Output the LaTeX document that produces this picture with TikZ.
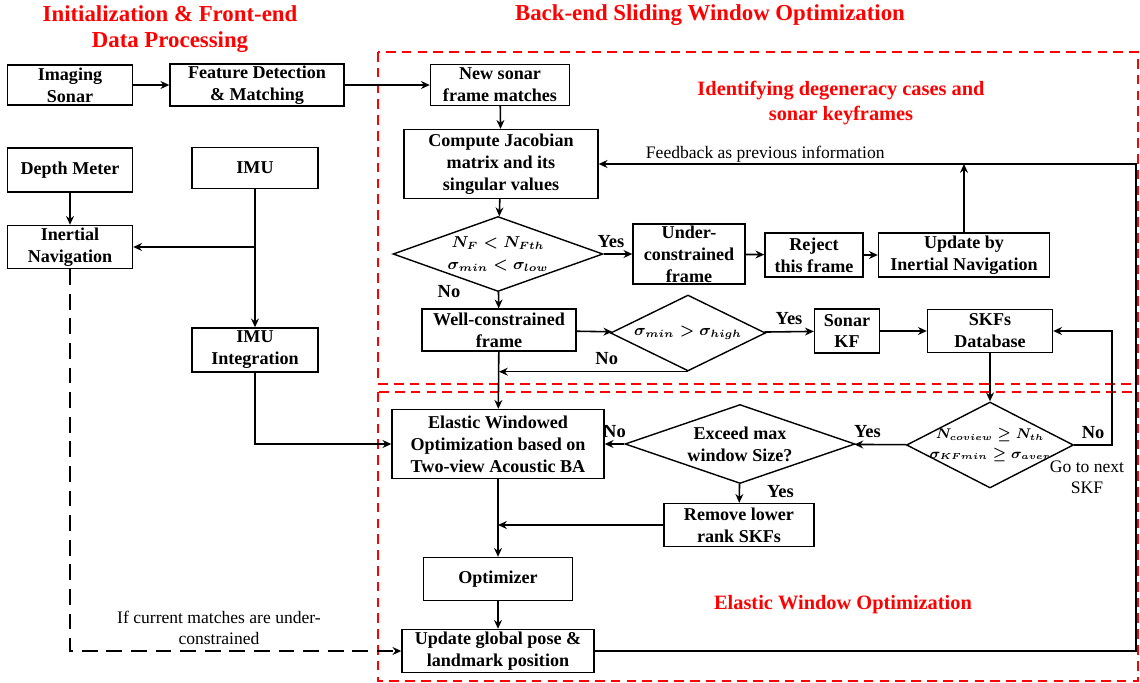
\documentclass[tikz,border=0pt]{standalone}
\usepackage{bm}
\usepackage{fontspec}
\setmainfont{Liberation Serif}
\usetikzlibrary{positioning,shapes.geometric,arrows.meta}

\begin{document}
\begin{tikzpicture}[x=0.02cm,y=-0.02cm,
        box/.style={draw,line width=0.8pt,align=center,inner sep=1pt,font=\fontsize{10.3}{12.5}\selectfont\bfseries},
        cond/.style={draw,diamond,line width=0.8pt,align=center,inner sep=0pt,font=\fontsize{10.3}{12.5}\selectfont\bfseries\boldmath},
        mathcond/.style={cond,font=\fontsize{9}{12.5}\selectfont\bfseries\boldmath},
        flow/.style={line width=0.9pt,-{Stealth[length=5pt,width=4.5pt]}},
        region/.style={draw=red,line width=1pt,dash pattern=on 5.5pt off 3.5pt},
        title/.style={red,align=center,font=\fontsize{13}{14.7}\selectfont\bfseries},
        subtitle/.style={red,align=center,font=\fontsize{11.6}{14.7}\selectfont\bfseries},
        tag/.style={font=\fontsize{10.5}{12}\selectfont\bfseries},
        note/.style={align=center,font=\fontsize{10}{12}\selectfont}]
        \useasboundingbox (0,0) rectangle (1140,683);

        % dashed regions and headings
        \draw[region] (378,52) rectangle (1138,384);
        \draw[region] (378,392) rectangle (1138,681);
        \node[title] at (170,29) (fronttitle) {Initialization \& Front-end\\Data Processing};
        \node[title] at (710,15) (backtitle) {Back-end Sliding Window Optimization};
        \node[subtitle] at (841,103) (degtitle) {Identifying degeneracy cases and\\sonar keyframes};
        \node[subtitle] at (843,605) (elastictitle) {Elastic Window Optimization};

        % front-end
        \node[box,minimum width=2.5cm,minimum height=0.8cm] at (70,85) (sonar) {Imaging\\Sonar};
        \node[box,minimum width=3.48cm,minimum height=0.8cm] at (257,85) (feat) {Feature Detection\\\& Matching};
        \node[box,minimum width=2.5cm,minimum height=0.88cm] at (70,170) (depth) {Depth Meter};
        \node[box,minimum width=2.52cm,minimum height=0.82cm] at (255,168) (imu) {IMU};
        \node[box,minimum width=2.5cm,minimum height=0.86cm] at (70,247) (inav) {Inertial\\Navigation};
        \node[box,minimum width=2.52cm,minimum height=0.88cm] at (255,350) (imuint) {IMU\\Integration};

        % degeneracy check
        \node[box,minimum width=2.78cm,minimum height=0.82cm] at (500,85) (newf) {New sonar\\frame matches};
        \node[box,minimum width=3.88cm,minimum height=1.38cm] at (501,164) (jac) {Compute Jacobian\\matrix and its\\singular values};
        \node[mathcond,aspect=2.8,minimum width=4.2cm,minimum height=1.5cm] at (498,254) (lowcheck) {$\bm{N_F < N_{Fth}}$\\$\bm{\sigma_{min} < \sigma_{low}}$};
        \node[box,minimum width=2.24cm,minimum height=1.18cm] at (689,254) (under) {Under-\\constrained\\frame};
        \node[box,minimum width=1.96cm,minimum height=0.88cm] at (814,255) (reject) {Reject\\this frame};
        \node[box,minimum width=3.42cm,minimum height=0.88cm] at (964,255) (upin) {Update by\\Inertial Navigation};
        \node[box,minimum width=3.08cm,minimum height=0.84cm] at (499,330) (well) {Well-constrained\\frame};
        \node[mathcond,aspect=2.04,minimum width=3.1cm,minimum height=1.52cm] at (688,333) (highcheck) {$\bm{\sigma_{min} > \sigma_{high}}$};
        \node[box,minimum width=1.3cm,minimum height=0.88cm] at (847,331) (skf) {Sonar\\KF};
        \node[box,minimum width=2.5cm,minimum height=0.86cm] at (990,331) (skfdb) {SKFs\\Database};

        % elastic window
        \node[box,minimum width=4.24cm,minimum height=1.38cm] at (498,444) (ewo) {Elastic Windowed\\Optimization based on\\Two-view Acoustic BA};
        \node[cond,aspect=2.9,minimum width=4.6cm,minimum height=1.58cm] at (740,444) (sizecheck) {Exceed max\\window Size?};
        \node[mathcond,font=\fontsize{7.8}{11}\selectfont\bfseries\boldmath,aspect=1.94,inner sep=-2pt,minimum width=3.34cm,minimum height=1.72cm] at (990,445) (covcheck) {$\bm{N_{coview} \geq N_{th}}$\\$\bm{\sigma_{KFmin} \geq \sigma_{aver}}$};
        \node[box,minimum width=3.0cm,minimum height=0.86cm] at (739,525) (remove) {Remove lower\\rank SKFs};
        \node[box,minimum width=2.98cm,minimum height=0.86cm] at (498,579) (optim) {Optimizer};
        \node[box,minimum width=3.84cm,minimum height=0.86cm] at (498,651) (upg) {Update global pose \&\\landmark position};

        \coordinate (fbcorner) at (1136,164);
        \coordinate (skfloop) at (1112,331);

        \draw[flow] (sonar) -- (feat);
        \draw[flow] (feat) -- (newf);
        \draw[flow] (newf) -- (jac);
        \draw[flow] (depth) -- (inav);
        \draw[flow] (imu) -- (imuint);
        \draw[flow] (imu.south |- inav) -- (inav);
        \draw[flow] (imuint) |- (ewo);
        \draw[flow,dash pattern=on 9pt off 5pt] (inav) |- (upg);
        \node[note] at (219,628) (undernote) {If current matches are under-\\constrained};

        \draw[flow] (jac) -- (lowcheck);
        \draw[flow] (lowcheck) -- node[tag,above,pos=0.25]{Yes} (under);
        \draw[flow] (lowcheck) -- node[tag,pos=0,left=18pt]{No} (well);
        \draw[flow] (under) -- (reject);
        \draw[flow] (reject) -- (upin);
        \draw[flow] (upin) -- (upin |- jac);
        \draw[flow] (upg) -| (fbcorner) -- node[note,above=-2.5pt,pos=0.69]{Feedback as previous information} (jac);
        \draw[flow] (well) -- (highcheck);
        \draw[flow] (well) -- (ewo);
        \draw[flow] (highcheck) -- node[tag,above]{Yes} (skf);
        \draw[flow] (highcheck.south) -- node[tag,above,pos=0.43]{No} (highcheck.south -| well);
        \draw[flow] (skf) -- (skfdb);
        \draw[flow] (skfdb) -- (covcheck);
        \draw[flow] (covcheck) -| node[tag,above,pos=0.25]{No} (skfloop) -- (skfdb);
        \node[note] at (1087,477) (nextnote) {Go to next\\SKF};
        \draw[flow] (covcheck) -- node[tag,above,pos=0.75]{Yes} (sizecheck);
        \draw[flow] (sizecheck) -- node[tag,above]{No} (ewo);
        \draw[flow] (sizecheck) -- node[tag,right=12pt,pos=0.4]{Yes} (remove);
        \draw[flow] (remove) -- (remove -| ewo);
        \draw[flow] (ewo) -- (optim);
        \draw[flow] (optim) -- (upg);
    \end{tikzpicture}
\end{document}
